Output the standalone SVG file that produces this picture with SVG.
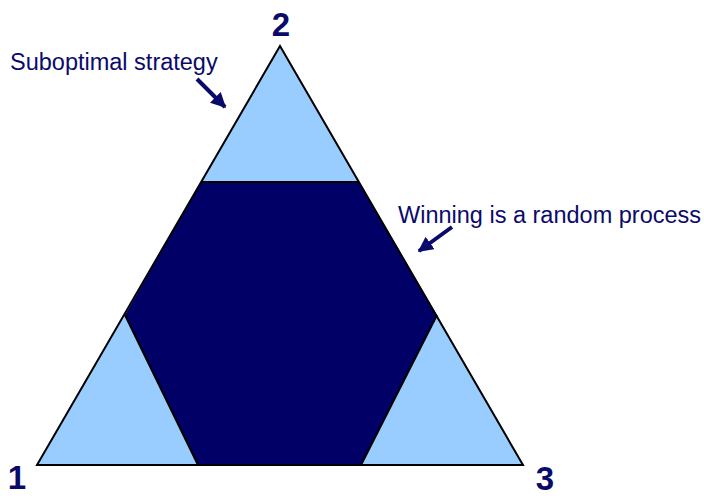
<svg xmlns="http://www.w3.org/2000/svg" width="704" height="496" viewBox="0 0 704 496">
<style>
.lbl{font-family:"Liberation Sans",Arial,sans-serif;fill:#0a0a6b}
.num{font-size:33px;font-weight:bold;text-anchor:middle}
.note{font-size:23.5px}
.edge{stroke:#000;stroke-width:2;fill:none;stroke-linejoin:miter}
.arrow{stroke:#0a0a6b;stroke-width:4;fill:none}
</style>
<defs>
<marker id="ah" viewBox="0 0 10 10" refX="9" refY="5" markerWidth="3.8" markerHeight="3.8" orient="auto" markerUnits="strokeWidth">
<path d="M0,0 L10,5 L0,10 z" fill="#0a0a6b"/>
</marker>
</defs>
<rect width="704" height="496" fill="#fff"/>
<g id="corner2">
<polygon points="280,46 359,182 201,182" fill="#99ccff"/>
</g>
<g id="corner1">
<polygon points="37,465 125,315 198,465" fill="#99ccff"/>
</g>
<g id="corner3">
<polygon points="523,465 437,315 361,465" fill="#99ccff"/>
</g>
<g id="hexagon">
<polygon points="201,182 359,182 437,315 361,465 198,465 125,315" fill="#000066"/>
</g>
<g id="outline">
<polygon class="edge" points="280,46 523,465 37,465"/>
<line class="edge" x1="201" y1="182" x2="359" y2="182"/>
<line class="edge" x1="125" y1="315" x2="198" y2="465"/>
<line class="edge" x1="437" y1="315" x2="361" y2="465"/>
</g>
<g id="labels">
<text class="lbl num" x="281" y="36">2</text>
<text class="lbl num" x="17" y="489">1</text>
<text class="lbl num" x="545" y="490">3</text>
<text class="lbl note" x="10" y="70">Suboptimal strategy</text>
<text class="lbl note" x="398" y="223">Winning is a random process</text>
</g>
<g id="connectors">
<line class="arrow" x1="197" y1="79" x2="225" y2="107" marker-end="url(#ah)"/>
<line class="arrow" x1="452" y1="227" x2="419" y2="251" marker-end="url(#ah)"/>
</g>
</svg>
